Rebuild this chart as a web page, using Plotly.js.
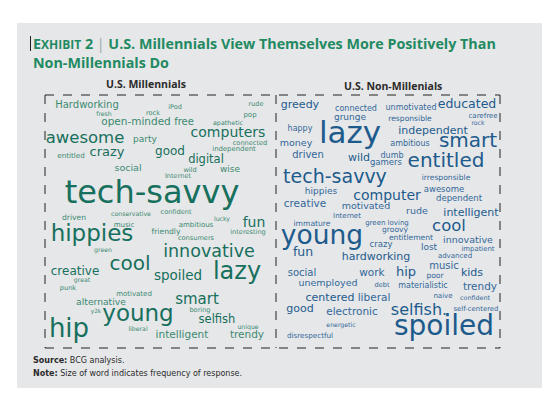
<!DOCTYPE html>
<html><head><meta charset="utf-8">
<script src="https://cdn.plot.ly/plotly-3.0.1.min.js"></script>
<style>html,body{margin:0;padding:0;background:#fff}#chart{width:558px;height:393px}</style>
</head><body><div id="chart"></div>
<script>
// U.S. Millennials (self-description)
const milWords = ["Hardworking","fresh","rock","iPod","rude","pop","open-minded","free","apathetic","awesome","party","computers","connected","independent","entitled","crazy","good","digital","social","wild","wise","Internet","tech-savvy","driven","conservative","music","confident","lucky","fun","ambitious","hippies","friendly","interesting","consumers","green","innovative","creative","cool","great","punk","spoiled","lazy","motivated","smart","alternative","y2k","boring","young","selfish","hip","unique","liberal","intelligent","trendy"];
const milFreq  = [10,6.2,6.5,6.5,6.5,7,10.5,10,6.4,16.5,9,14,6.6,6.9,7.2,13,12,11.5,9.5,6.6,9,6.6,32,7.6,6.2,7,6.6,6.2,14,7,23,7.6,6.6,6.6,6.2,17.5,12,20,6.2,6.6,13.5,24,7,15,9.2,5.7,6.6,23,11.5,26,6.2,6.2,10.5,10.5];
const milX = [87,104,153,175,256,250,136,184,228,85,145,228,250,234,71,107,170,206,128,190,230,178,152,74,131,124,176,222,254,196,92,166,248,196,103,209,75,130,82,68,178,237,134,197,101,96,200,138,217,69,248,138,182,247];
const milY = [105,114,113,107,104,115,122,122,123,139,140,133,143,149,156,153,152,160,169,170,170,176,195,218,214,225,212,219,223,225,235,232,232,238,250,253,272,265,280,288,277,273,294,300,303,312,310,315,320,330,327,329,335,335];

// U.S. Non-Millennials (description of Millennials)
const nonWords = ["greedy","connected","grunge","unmotivated","educated","responsible","carefree","rock","happy","lazy","independent","money","driven","ambitious","smart","wild","dumb","gamers","entitled","tech-savvy","irresponsible","hippies","awesome","computer","dependent","creative","motivated","rude","intelligent","Internet","immature","green loving","groovy","cool","young","entitlement","innovative","crazy","lost","impatient","fun","hardworking","advanced","social","work","hip","music","kids","poor","unemployed","debt","materialistic","trendy","naive","confident","centered","liberal","good","electronic","selfish.","self-centered","energetic","spoiled","disrespectful"];
const nonFreq  = [11,8,9,8,12.5,7.6,7,6.2,8,31,11,9.5,10,8,20,11,8,8.5,20,19,7.6,9,8.5,14,8.5,10.5,9.5,9.5,11,7,7.6,7,7.6,16.5,26.5,7.6,9.5,8.5,9,6.9,12.5,11,7,10,10.5,13,10,11,7.6,9.5,6.6,8,10.5,7,6.4,11,10.5,11,10.5,16,6.9,6.2,28,7.2];
const nonX = [300,356,350,411,467,410,483,478,300,350,433,296,308,410,468,359,392,386,446,335,446,321,444,387,459,305,366,417,471,347,312,387,395,449,322,411,468,381,429,478,303,376,455,302,372,406,444,472,435,328,382,423,480,443,475,330,374,300,352,419,476,341,444,310];
const nonY = [105,109,118,108,105,119,116,123,129,135,131,144,155,144,142,158,156,163,162,178,178,192,190,196,199,204,207,212,213,216,224,223,230,227,237,238,241,245,248,249,253,257,256,273,273,273,266,273,276,284,285,286,287,296,298,298,298,309,312,311,309,325,328,336];

const FONT = "DejaVu Sans, sans-serif";
const milColors = milFreq.map(f => f >= 11 ? "#17705d" : "#3c8a72");
const nonColors = nonFreq.map(f => f >= 11 ? "#1d5b8d" : "#33679a");

const traces = [
  {type:"scatter", mode:"text", x:milX, y:milY, text:milWords, textposition:"middle center",
   textfont:{family:FONT, size:milFreq, color:milColors}, hoverinfo:"text", showlegend:false},
  {type:"scatter", mode:"text", x:nonX, y:nonY, text:nonWords, textposition:"middle center",
   textfont:{family:FONT, size:nonFreq, color:nonColors}, hoverinfo:"text", showlegend:false}
];

const dash = {color:"#222", width:1, dash:"dash"};
const layout = {
  width:558, height:393, margin:{l:0,r:0,t:0,b:0},
  paper_bgcolor:"#ffffff", plot_bgcolor:"rgba(0,0,0,0)",
  xaxis:{range:[0,558], visible:false, fixedrange:true},
  yaxis:{range:[393,0], visible:false, fixedrange:true},
  shapes:[
    {type:"rect", xref:"x", yref:"y", x0:17, x1:542, y0:23, y1:388, fillcolor:"#e6e7e8", line:{width:0}, layer:"below"},
    {type:"line", x0:45, x1:500, y0:95, y1:95, line:dash},
    {type:"line", x0:45, x1:500, y0:348, y1:348, line:dash},
    {type:"line", x0:45, x1:45, y0:95, y1:348, line:dash},
    {type:"line", x0:500, x1:500, y0:95, y1:348, line:dash},
    {type:"line", x0:276, x1:276, y0:95, y1:348, line:dash},
    {type:"line", x0:30.5, x1:30.5, y0:36, y1:51, line:{color:"#222", width:1}}
  ],
  annotations:[
    {xref:"x", yref:"y", x:31, y:43, xanchor:"left", yanchor:"middle", showarrow:false,
     text:"<b>E<span style='font-size:12px'>XHIBIT</span> 2</b> <span style='color:#9aa'>|</span> <b>U.S. Millennials View Themselves More Positively Than</b>",
     font:{family:"Open Sans, sans-serif", size:14.3, color:"#1f8a62"}},
    {xref:"x", yref:"y", x:31, y:62, xanchor:"left", yanchor:"middle", showarrow:false,
     text:"<b>Non-Millennials Do</b>", font:{family:"Open Sans, sans-serif", size:14.3, color:"#1f8a62"}},
    {xref:"x", yref:"y", x:146, y:84, xanchor:"center", yanchor:"middle", showarrow:false,
     text:"<b>U.S. Millennials</b>", font:{family:"Open Sans, sans-serif", size:10.5, color:"#2b2b2b"}},
    {xref:"x", yref:"y", x:393, y:86, xanchor:"center", yanchor:"middle", showarrow:false,
     text:"<b>U.S. Non-Millenials</b>", font:{family:"Open Sans, sans-serif", size:10.5, color:"#2b2b2b"}},
    {xref:"x", yref:"y", x:31, y:360, xanchor:"left", yanchor:"middle", showarrow:false,
     text:"<b>Source:</b> BCG analysis.", font:{family:"DejaVu Sans, sans-serif", size:8, color:"#2b2b2b"}},
    {xref:"x", yref:"y", x:31, y:373, xanchor:"left", yanchor:"middle", showarrow:false,
     text:"<b>Note:</b> Size of word indicates frequency of response.", font:{family:"DejaVu Sans, sans-serif", size:8, color:"#2b2b2b"}}
  ]
};
Plotly.newPlot("chart", traces, layout, {staticPlot:true, displayModeBar:false});
</script></body></html>
